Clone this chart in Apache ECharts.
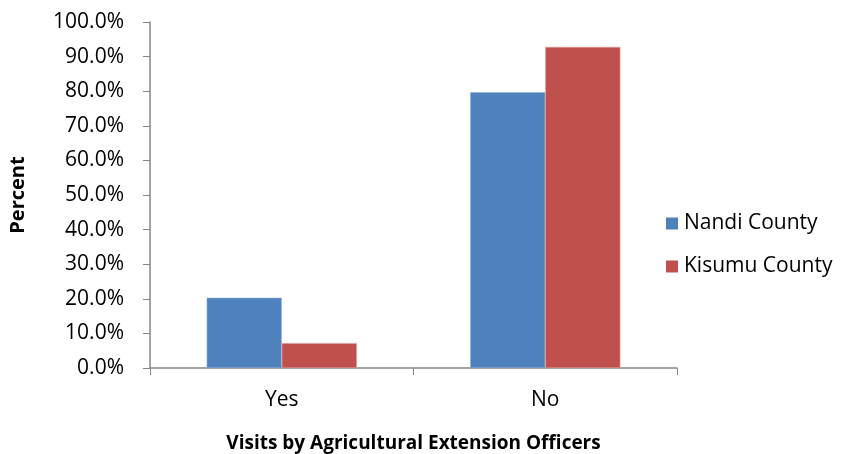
<!DOCTYPE html>
<html>
<head>
  <meta charset="utf-8">
  <style>
    body { margin: 0; background: #fff; }
    #container { width: 848px; height: 454px; }
  </style>
</head>
<body>
  <div id="container"></div>
  <script src="https://cdn.jsdelivr.net/npm/echarts@6/dist/echarts.min.js"></script>
  <script>
    // data
    var categories = ['Yes', 'No']
    var nandi = [20.3, 79.7]
    var kisumu = [7.2, 92.8]
    var seriesNames = ['Nandi County', 'Kisumu County']

    var font = 'Open Sans'
    var axisGrey = '#868686'

    var myChart = echarts.init(document.getElementById('container'), null, { renderer: 'canvas' })

    var option = {
      animation: false,
      textStyle: { fontFamily: font },
      grid: { left: 150, right: 171, top: 22, bottom: 86, outerBoundsMode: 'none' },
      legend: {
        orient: 'vertical',
        left: 661,
        top: 208,
        itemWidth: 12,
        itemHeight: 12,
        itemGap: 22,
        icon: 'rect',
        itemStyle: { borderWidth: 0 },
        textStyle: { fontSize: 21, color: '#000', fontFamily: font, padding: [0, 0, 0, 1] },
        data: seriesNames
      },
      xAxis: {
        type: 'category',
        data: categories,
        name: 'Visits by Agricultural Extension Officers',
        nameLocation: 'middle',
        nameGap: 66,
        nameTextStyle: { fontSize: 19, fontWeight: 'bold', color: '#000' },
        axisLine: { lineStyle: { color: axisGrey, width: 1.5 } },
        axisTick: { show: true, length: 7, alignWithLabel: false, lineStyle: { color: axisGrey } },
        axisLabel: { fontSize: 21, color: '#000', margin: 22 }
      },
      yAxis: {
        type: 'value',
        min: 0,
        max: 100,
        interval: 10,
        name: 'Percent',
        nameLocation: 'middle',
        nameGap: 122,
        nameRotate: 90,
        nameTextStyle: { fontSize: 20, fontWeight: 'bold', color: '#000' },
        splitLine: { show: false },
        axisLine: { show: true, lineStyle: { color: axisGrey, width: 1.5 } },
        axisTick: { show: true, length: 7, lineStyle: { color: axisGrey } },
        axisLabel: {
          fontSize: 21,
          color: '#000',
          margin: 26,
          formatter: function (v) { return v.toFixed(1) + '%' }
        }
      },
      series: [
        {
          name: seriesNames[0],
          type: 'bar',
          data: nandi,
          barGap: '0%',
          barCategoryGap: '43%',
          itemStyle: { color: '#4f81bd', borderColor: '#8db0dc', borderWidth: 0.6 }
        },
        {
          name: seriesNames[1],
          type: 'bar',
          data: kisumu,
          itemStyle: { color: '#c0504d', borderColor: '#e39896', borderWidth: 0.6 }
        }
      ]
    }

    myChart.setOption(option)
  </script>
</body>
</html>
